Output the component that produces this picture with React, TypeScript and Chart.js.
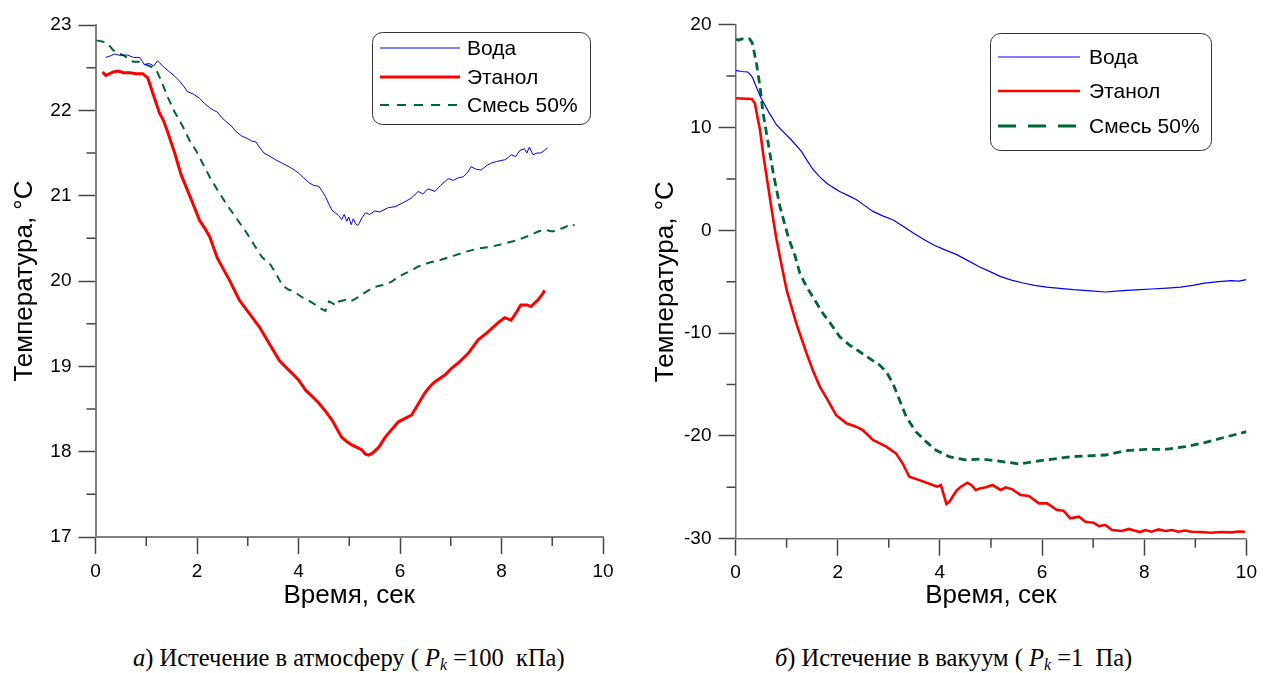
import React, { useEffect, useRef } from "react";
import { Chart, registerables } from "chart.js";
Chart.register(...registerables);

// ---------- labels ----------
const seriesLabels = ["Вода", "Этанол", "Смесь 50%"];
const xTitle = "Время, сек";
const yTitle = "Температура, °C";

// ---------- (а) atmosphere ----------
const atmWaterT = [0.20,0.30,0.38,0.50,0.62,0.75,0.87,0.97,1.05,1.15,1.22,1.26,1.32,1.46,1.56,1.66,1.74,1.81,1.93,2.05,2.15,2.25,2.33,2.40,2.48,2.57,2.67,2.77,2.88,2.99,3.08,3.16,3.24,3.32,3.44,3.55,3.68,3.81,3.92,4.01,4.10,4.21,4.30,4.40,4.47,4.53,4.60,4.66,4.72,4.79,4.85,4.90,4.95,4.99,5.04,5.08,5.12,5.16,5.19,5.25,5.32,5.40,5.50,5.60,5.77,5.90,6.00,6.10,6.22,6.36,6.45,6.55,6.69,6.80,6.95,7.05,7.15,7.24,7.33,7.40,7.50,7.60,7.70,7.79,7.90,8.06,8.12,8.19,8.28,8.36,8.45,8.50,8.55,8.62,8.70,8.77,8.85,8.91];
const atmWaterV = [22.62,22.64,22.66,22.64,22.65,22.62,22.62,22.53,22.55,22.52,22.58,22.56,22.52,22.45,22.40,22.34,22.28,22.22,22.19,22.14,22.08,22.03,22.00,21.98,21.92,21.87,21.82,21.75,21.70,21.67,21.64,21.63,21.56,21.50,21.46,21.42,21.38,21.34,21.30,21.26,21.21,21.15,21.12,21.11,21.05,20.99,20.90,20.83,20.80,20.77,20.72,20.78,20.70,20.75,20.66,20.73,20.68,20.65,20.67,20.74,20.80,20.78,20.82,20.81,20.86,20.87,20.90,20.93,20.97,21.05,21.02,21.08,21.05,21.12,21.20,21.18,21.21,21.22,21.27,21.34,21.31,21.30,21.35,21.38,21.40,21.42,21.44,21.48,21.46,21.53,21.55,21.50,21.57,21.48,21.50,21.50,21.53,21.56];

const atmEthT = [0.14,0.20,0.28,0.35,0.45,0.55,0.68,0.80,0.93,1.03,1.13,1.26,1.34,1.42,1.56,1.69,1.85,2.05,2.15,2.25,2.40,2.50,2.64,2.83,2.93,3.03,3.23,3.42,3.62,3.75,3.87,4.00,4.14,4.25,4.40,4.55,4.66,4.85,4.95,5.05,5.15,5.25,5.32,5.38,5.45,5.58,5.71,5.85,5.97,6.10,6.23,6.35,6.49,6.60,6.69,6.89,7.02,7.15,7.34,7.54,7.73,7.93,8.06,8.19,8.30,8.38,8.50,8.58,8.72,8.80,8.85];
const atmEthV = [22.45,22.41,22.43,22.45,22.46,22.44,22.44,22.43,22.43,22.38,22.20,21.97,21.88,21.75,21.50,21.24,21.01,20.71,20.62,20.52,20.27,20.16,20.01,19.78,19.70,19.62,19.46,19.27,19.07,18.99,18.92,18.84,18.72,18.66,18.57,18.46,18.37,18.17,18.12,18.08,18.05,18.02,17.97,17.96,17.98,18.05,18.17,18.27,18.35,18.39,18.43,18.55,18.69,18.77,18.82,18.90,18.98,19.04,19.15,19.31,19.40,19.51,19.57,19.54,19.64,19.72,19.72,19.70,19.78,19.84,19.89];

const atmMixT = [0.02,0.19,0.27,0.34,0.44,0.54,0.64,0.74,0.84,0.93,1.02,1.10,1.20,1.30,1.42,1.56,1.72,1.85,1.98,2.11,2.25,2.40,2.57,2.77,2.96,3.13,3.28,3.45,3.58,3.68,3.80,3.90,4.07,4.20,4.34,4.46,4.53,4.60,4.67,4.73,4.80,4.93,5.02,5.12,5.25,5.38,5.50,5.64,5.83,5.95,6.10,6.22,6.36,6.55,6.81,7.08,7.28,7.54,7.79,8.06,8.32,8.58,8.72,8.85,9.00,9.11,9.25,9.36,9.44];
const atmMixV = [22.82,22.80,22.76,22.71,22.67,22.65,22.61,22.57,22.57,22.56,22.53,22.51,22.47,22.34,22.16,21.98,21.81,21.65,21.53,21.38,21.22,21.07,20.91,20.74,20.58,20.42,20.28,20.19,20.06,19.95,19.90,19.88,19.81,19.77,19.72,19.67,19.65,19.76,19.74,19.71,19.76,19.78,19.76,19.79,19.84,19.89,19.93,19.95,19.99,20.04,20.09,20.12,20.17,20.21,20.25,20.30,20.34,20.38,20.40,20.44,20.48,20.54,20.58,20.60,20.58,20.60,20.63,20.67,20.65];

// ---------- (б) vacuum ----------
const vacWaterT = [0,0.12,0.24,0.30,0.34,0.42,0.50,0.65,0.80,0.95,1.09,1.29,1.40,1.52,1.65,1.78,1.90,2.04,2.20,2.37,2.53,2.69,2.88,3.08,3.28,3.48,3.67,3.87,4.10,4.33,4.55,4.77,4.95,5.18,5.40,5.63,5.85,6.09,6.35,6.61,6.95,7.24,7.45,7.66,7.92,8.14,8.45,8.71,8.95,9.18,9.45,9.70,9.85,10.0];
const vacWaterV = [15.55,15.45,15.40,15.10,14.80,13.80,12.87,11.50,10.27,9.50,8.81,7.68,6.80,5.89,5.20,4.60,4.20,3.78,3.40,2.98,2.40,1.84,1.40,1.03,0.40,-0.26,-0.85,-1.40,-1.90,-2.37,-2.95,-3.55,-3.95,-4.48,-4.85,-5.13,-5.35,-5.52,-5.65,-5.78,-5.90,-6.00,-5.92,-5.85,-5.78,-5.71,-5.62,-5.52,-5.35,-5.13,-5.00,-4.90,-4.95,-4.80];

const vacEthT = [0.0,0.32,0.38,0.43,0.48,0.54,0.64,0.74,0.80,0.87,1.00,1.19,1.39,1.52,1.65,1.78,1.97,2.17,2.36,2.49,2.69,2.95,3.14,3.27,3.40,3.60,3.86,3.95,4.02,4.08,4.13,4.19,4.25,4.33,4.41,4.54,4.62,4.70,4.80,4.90,5.03,5.19,5.29,5.42,5.58,5.74,5.94,6.10,6.29,6.42,6.55,6.72,6.85,7.01,7.11,7.24,7.37,7.56,7.70,7.82,7.92,8.02,8.14,8.28,8.41,8.55,8.66,8.80,8.92,9.10,9.31,9.50,9.70,9.85,9.97];
const vacEthV = [12.84,12.77,12.35,11.0,9.76,7.49,4.24,1.0,-0.8,-2.6,-5.8,-9.05,-11.96,-13.7,-15.2,-16.3,-17.97,-18.77,-19.1,-19.43,-20.4,-21.05,-21.7,-22.66,-23.97,-24.3,-24.78,-24.94,-24.78,-25.8,-26.63,-26.4,-25.9,-25.3,-24.94,-24.55,-24.8,-25.26,-25.1,-25.0,-24.78,-25.26,-25.0,-25.2,-25.75,-25.85,-26.56,-26.56,-27.21,-27.27,-28.02,-27.86,-28.35,-28.44,-28.77,-28.67,-29.16,-29.25,-29.05,-29.22,-29.35,-29.16,-29.32,-29.1,-29.25,-29.15,-29.32,-29.2,-29.32,-29.35,-29.42,-29.35,-29.38,-29.3,-29.32];

const vacMixT = [0.01,0.06,0.12,0.20,0.28,0.33,0.41,0.48,0.54,0.64,0.74,0.87,1.03,1.16,1.26,1.39,1.55,1.71,1.88,2.04,2.23,2.43,2.62,2.82,2.95,3.08,3.21,3.34,3.53,3.73,3.92,4.18,4.51,4.83,5.09,5.55,6.07,6.58,7.24,7.63,8.02,8.41,8.80,9.18,9.57,10.0];
const vacMixV = [18.61,18.5,18.62,18.55,18.61,18.19,16.25,13.97,11.38,8.46,5.54,2.30,-0.62,-2.40,-4.18,-5.49,-6.78,-8.07,-9.21,-10.35,-11.16,-11.81,-12.45,-13.10,-13.75,-14.88,-16.5,-18.13,-19.59,-20.56,-21.37,-22.02,-22.34,-22.25,-22.41,-22.73,-22.34,-22.02,-21.86,-21.44,-21.31,-21.31,-21.05,-20.66,-20.14,-19.59];

// minor tick positions
const atmMinorX = [1, 3, 5, 7, 9];
const atmMinorY = [17.5, 18.5, 19.5, 20.5, 21.5, 22.5];
const vacMinorX = [1, 3, 5, 7, 9];
const vacMinorY = [15, 5, -5, -15, -25];

const SANS = "'Liberation Sans', Arial, sans-serif";
const SERIF = "'Liberation Serif', 'Times New Roman', serif";

const pts = (t: number[], v: number[]) => t.map((x, i) => ({ x, y: v[i] }));

function minorTicks(xs: number[], ys: number[], len: number, color: string, width: number) {
  return {
    id: "minorTicks",
    afterDraw(chart: any) {
      const { ctx, chartArea, scales } = chart;
      ctx.save();
      ctx.strokeStyle = color;
      ctx.lineWidth = width;
      ctx.beginPath();
      xs.forEach((v) => {
        const px = scales.x.getPixelForValue(v);
        ctx.moveTo(px, chartArea.bottom);
        ctx.lineTo(px, chartArea.bottom + len);
      });
      ys.forEach((v) => {
        const py = scales.y.getPixelForValue(v);
        ctx.moveTo(chartArea.left, py);
        ctx.lineTo(chartArea.left - len, py);
      });
      ctx.stroke();
      ctx.restore();
    },
  };
}

function legendBox(box: { x: number; y: number; w: number; h: number }, rowsY: number[], l0: number, l1: number, tx: number, dashes: number[][], fontSize: number) {
  return {
    id: "legendBox",
    afterDatasetsDraw(chart: any) {
      const { ctx } = chart;
      ctx.save();
      ctx.beginPath();
      ctx.roundRect(box.x, box.y, box.w, box.h, 10);
      ctx.fillStyle = "#fff";
      ctx.fill();
      ctx.strokeStyle = "#333";
      ctx.lineWidth = 1;
      ctx.stroke();
      chart.data.datasets.forEach((ds: any, i: number) => {
        ctx.beginPath();
        ctx.strokeStyle = ds.borderColor;
        ctx.lineWidth = ds.borderWidth;
        ctx.setLineDash(dashes[i]);
        ctx.moveTo(l0, rowsY[i]);
        ctx.lineTo(l1, rowsY[i]);
        ctx.stroke();
        ctx.setLineDash([]);
        ctx.fillStyle = "#000";
        ctx.font = `${fontSize}px ${SANS}`;
        ctx.textBaseline = "middle";
        ctx.textAlign = "left";
        ctx.fillText(ds.label, tx, rowsY[i] + 1);
      });
      ctx.restore();
    },
  };
}

function makeConfig(opts: any) {
  const { data, yMin, yMax, yStep, yWidth, xHeight, pad, yTitlePad, minor, legend, axisColor, axisWidth } = opts;
  return {
    type: "line",
    data: { datasets: data },
    options: {
      responsive: false,
      devicePixelRatio: 1,
      animation: false,
      events: [],
      layout: { padding: pad },
      elements: { point: { radius: 0 }, line: { tension: 0 } },
      plugins: { legend: { display: false }, tooltip: { enabled: false } },
      scales: {
        x: {
          type: "linear",
          min: 0,
          max: 10,
          ticks: { stepSize: 2, color: "#000", font: { family: SANS, size: 19 }, padding: 6, maxRotation: 0 },
          grid: { drawOnChartArea: false, drawTicks: true, tickLength: 17, tickColor: "#444", tickWidth: 1.5 },
          border: { color: axisColor, width: axisWidth },
          title: { display: true, text: xTitle, color: "#000", font: { family: SANS, size: 26 }, padding: { top: 0, bottom: 9 } },
          afterFit: (s: any) => { s.height = xHeight; },
        },
        y: {
          type: "linear",
          min: yMin,
          max: yMax,
          ticks: { stepSize: yStep, color: "#000", font: { family: SANS, size: 19 }, padding: 7 },
          grid: { drawOnChartArea: false, drawTicks: true, tickLength: 17, tickColor: "#444", tickWidth: 1.5 },
          border: { color: axisColor, width: axisWidth },
          title: { display: true, text: yTitle, color: "#000", font: { family: SANS, size: 26 }, padding: { top: yTitlePad, bottom: 0 } },
          afterFit: (s: any) => { s.width = yWidth; },
        },
      },
    },
    plugins: [minor, legend],
  };
}

function Panel({ cfg, left, width, height }: any) {
  const ref = useRef<HTMLCanvasElement>(null);
  useEffect(() => {
    const chart = new Chart(ref.current as HTMLCanvasElement, cfg() as any);
    return () => chart.destroy();
  }, []);
  return (
    <div style={{ position: "absolute", left, top: 0, width, height }}>
      <canvas ref={ref} width={width} height={height} style={{ display: "block" }} />
    </div>
  );
}

const atmConfig = () =>
  makeConfig({
    data: [
      { label: seriesLabels[0], data: pts(atmWaterT, atmWaterV), borderColor: "#0000ff", borderWidth: 1 },
      { label: seriesLabels[1], data: pts(atmEthT, atmEthV), borderColor: "#ff0000", borderWidth: 3 },
      { label: seriesLabels[2], data: pts(atmMixT, atmMixV), borderColor: "#006633", borderWidth: 2, borderDash: [8, 6] },
    ],
    yMin: 17, yMax: 23, yStep: 1, yWidth: 95.5, xHeight: 83,
    pad: { top: 25, right: 29, left: 0, bottom: 0 },
    yTitlePad: 9,
    minor: minorTicks(atmMinorX, atmMinorY, 9, "#444", 1.5),
    legend: legendBox({ x: 372.5, y: 32.5, w: 218, h: 92 }, [48, 77, 105], 380, 460, 467, [[], [], [9, 8]], 21),
    axisColor: "#808080", axisWidth: 2,
  });

const vacConfig = () =>
  makeConfig({
    data: [
      { label: seriesLabels[0], data: pts(vacWaterT, vacWaterV), borderColor: "#0000ff", borderWidth: 1.2 },
      { label: seriesLabels[1], data: pts(vacEthT, vacEthV), borderColor: "#ff0000", borderWidth: 2.6 },
      { label: seriesLabels[2], data: pts(vacMixT, vacMixV), borderColor: "#006633", borderWidth: 2.8, borderDash: [8, 5] },
    ],
    yMin: -30, yMax: 20, yStep: 10, yWidth: 103.5, xHeight: 81.3,
    pad: { top: 24.7, right: 14, left: 0, bottom: 0 },
    yTitlePad: 18,
    minor: minorTicks(vacMinorX, vacMinorY, 9, "#444", 1.5),
    legend: legendBox({ x: 358.5, y: 33.5, w: 221, h: 117 }, [57, 91, 126], 366, 448, 457, [[], [], [18, 12]], 21),
    axisColor: "#707070", axisWidth: 1.5,
  });

const captionStyle: React.CSSProperties = {
  position: "absolute",
  top: 645,
  fontFamily: SERIF,
  fontSize: 24.5,
  lineHeight: "26px",
  whiteSpace: "nowrap",
  color: "#000",
};

export default function App() {
  return (
    <div style={{ position: "fixed", left: 0, top: 0, width: 1263, height: 673, background: "#fff", overflow: "hidden" }}>
      <Panel cfg={atmConfig} left={0} width={632} height={620} />
      <Panel cfg={vacConfig} left={632} width={631} height={620} />
      <div style={{ ...captionStyle, left: 133 }}>
        <i>а</i>) Истечение в атмосферу ( <i>P<sub style={{ fontSize: "0.65em", verticalAlign: "-0.25em" }}>k</sub></i> =100&nbsp; кПа)
      </div>
      <div style={{ ...captionStyle, left: 775 }}>
        <i>б</i>) Истечение в вакуум ( <i>P<sub style={{ fontSize: "0.65em", verticalAlign: "-0.25em" }}>k</sub></i> =1&nbsp; Па)
      </div>
    </div>
  );
}
